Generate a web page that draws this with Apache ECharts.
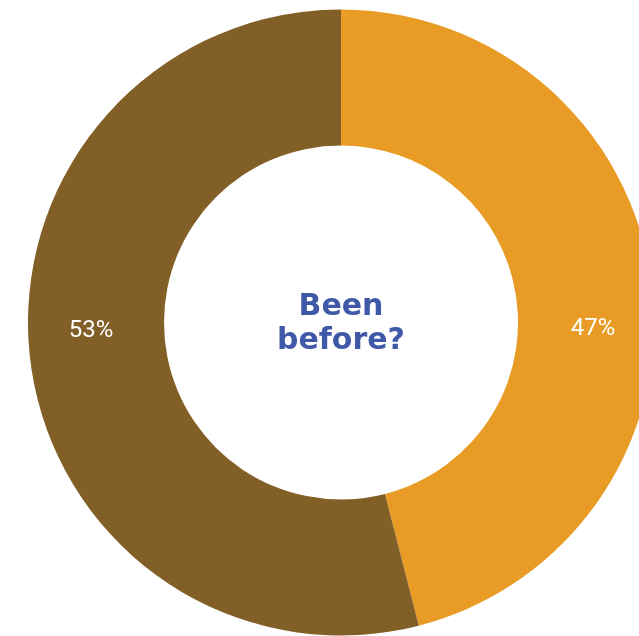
<!DOCTYPE html>
<html>
<head>
<meta charset="utf-8">
<script src="https://cdn.jsdelivr.net/npm/echarts@6/dist/echarts.min.js"></script>
<style>
  html, body { margin: 0; padding: 0; background: #fff; }
  #chart { width: 639px; height: 636px; }
</style>
</head>
<body>
<div id="chart"></div>
<script>
const categories = ['Yes', 'No']
// slice sizes as drawn in the picture
const values = [46, 54]
// the percentages printed on the slices
const labelTexts = ['47%', '53%']
const colors = ['#E89C26', '#825F26']
// nudges so both labels sit on the same line as in the picture
const labelOffsets = [[6, 38], [-4, -23]]

const chart = echarts.init(document.getElementById('chart'))
chart.setOption({
  animation: false,
  title: {
    text: 'Been\nbefore?',
    left: 336,
    top: 319,
    textAlign: 'center',
    textVerticalAlign: 'middle',
    textStyle: {
      color: '#4058A8',
      fontFamily: 'DejaVu Sans',
      fontWeight: 'bold',
      fontSize: 30,
      lineHeight: 34
    }
  },
  series: [
    {
      type: 'pie',
      center: [341, 322.5],
      radius: [177, 313],
      startAngle: 90,
      clockwise: true,
      data: categories.map((name, i) => ({
        name: name,
        value: values[i],
        itemStyle: { color: colors[i] },
        label: { offset: labelOffsets[i], formatter: labelTexts[i] }
      })),
      label: {
        show: true,
        position: 'inside',
        color: '#fff',
        fontFamily: 'Roboto',
        fontSize: 24
      },
      labelLine: { show: false }
    }
  ]
})
</script>
</body>
</html>
